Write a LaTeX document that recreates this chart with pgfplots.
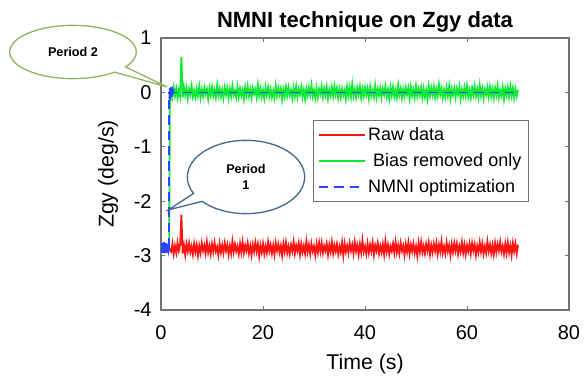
\documentclass[border=0pt]{standalone}
\usepackage{pgfplots}
\pgfplotsset{compat=1.18}
\usepackage{pgfplotstable}
\usepackage{fontspec}
\setmainfont{Liberation Sans}
\usetikzlibrary{shapes.callouts}
\definecolor{rawred}{RGB}{255,20,20}
\definecolor{biasgreen}{RGB}{10,235,50}
\definecolor{nmniblue}{RGB}{40,70,255}
\definecolor{axgray}{RGB}{115,115,115}
\definecolor{calloutgreen}{RGB}{140,185,100}
\definecolor{calloutblue}{RGB}{70,105,150}

\pgfplotstableread{
x g r
1.60 -2.85 -2.85
1.75 0.02 -2.90
2.00 0.05 -2.93
2.25 -0.08 -2.78
2.50 0.09 -2.97
2.75 -0.06 -2.82
3.00 0.07 -2.95
3.25 -0.10 -2.76
3.50 0.04 -2.91
3.75 -0.07 -2.80
4.00 0.65 -2.25
4.25 -0.09 -2.96
4.50 0.10 -2.81
4.75 -0.05 -2.99
5.00 0.08 -2.79
5.25 -0.11 -2.92
5.50 0.06 -2.77
5.75 -0.04 -2.94
6.00 0.12 -2.83
6.25 -0.08 -2.98
6.50 0.03 -2.78
6.75 -0.09 -2.93
7.00 0.07 -2.80
7.25 -0.06 -3.00
7.50 0.11 -2.82
7.75 -0.10 -2.95
8.00 0.05 -2.77
8.25 -0.07 -2.91
8.50 0.09 -2.81
8.75 -0.03 -2.96
9.00 0.06 -2.75
9.25 -0.12 -2.94
9.50 0.08 -2.82
9.75 -0.05 -2.97
10.00 0.10 -2.79
10.25 -0.07 -2.93
10.50 0.04 -2.76
10.75 -0.09 -2.92
11.00 0.13 -2.84
11.25 -0.06 -2.99
11.50 0.07 -2.78
11.75 -0.08 -2.94
12.00 0.05 -2.81
12.25 -0.10 -2.95
12.50 0.09 -2.77
12.75 -0.04 -2.91
13.00 0.08 -2.80
13.25 -0.11 -2.98
13.50 0.06 -2.82
13.75 -0.07 -2.96
14.00 0.12 -2.74
14.25 -0.05 -2.93
14.50 0.03 -2.79
14.75 -0.09 -2.92
15.00 0.10 -2.83
15.25 -0.08 -2.97
15.50 0.07 -2.78
15.75 -0.06 -2.94
16.00 0.04 -2.75
16.25 -0.12 -2.95
16.50 0.09 -2.81
16.75 -0.05 -2.91
17.00 0.11 -2.77
17.25 -0.07 -2.96
17.50 0.06 -2.82
17.75 -0.10 -2.99
18.00 0.08 -2.80
18.25 -0.03 -2.93
18.50 0.05 -2.76
18.75 -0.09 -2.92
19.00 0.14 -2.79
19.25 -0.06 -3.01
19.50 0.07 -2.81
19.75 -0.08 -2.94
20.00 0.04 -2.78
20.25 -0.11 -2.97
20.50 0.10 -2.83
20.75 -0.05 -2.95
21.00 0.09 -2.75
21.25 -0.07 -2.92
21.50 0.06 -2.80
21.75 -0.09 -2.96
22.00 0.03 -2.81
22.25 -0.10 -2.98
22.50 0.12 -2.77
22.75 -0.06 -2.91
23.00 0.08 -2.79
23.25 -0.04 -2.94
23.50 0.07 -2.82
23.75 -0.13 -3.00
24.00 0.05 -2.78
24.25 -0.08 -2.93
24.50 0.10 -2.76
24.75 -0.06 -2.95
25.00 0.09 -2.83
25.25 -0.05 -2.97
25.50 0.04 -2.80
25.75 -0.11 -2.92
26.00 0.08 -2.75
26.25 -0.07 -2.96
26.50 0.11 -2.81
26.75 -0.09 -2.91
27.00 0.06 -2.77
27.25 -0.04 -2.98
27.50 0.10 -2.79
27.75 -0.08 -2.94
28.00 0.05 -2.82
28.25 -0.12 -2.96
28.50 0.07 -2.74
28.75 -0.06 -2.93
29.00 0.09 -2.80
29.25 -0.05 -2.97
29.50 0.13 -2.78
29.75 -0.07 -2.92
30.00 0.04 -2.83
30.25 -0.10 -2.99
30.50 0.08 -2.79
30.75 -0.09 -2.94
31.00 0.06 -2.76
31.25 -0.03 -2.93
31.50 0.11 -2.77
31.75 -0.08 -2.95
32.00 0.07 -2.82
32.25 -0.05 -2.91
32.50 0.10 -2.78
32.75 -0.11 -2.98
33.00 0.05 -2.80
33.25 -0.06 -2.93
33.50 0.09 -2.75
33.75 -0.07 -2.96
34.00 0.12 -2.81
34.25 -0.04 -2.92
34.50 0.08 -2.79
34.75 -0.10 -2.97
35.00 0.06 -2.83
35.25 -0.09 -2.94
35.50 0.07 -2.76
35.75 -0.05 -3.00
36.00 0.04 -2.78
36.25 -0.12 -2.93
36.50 0.10 -2.82
36.75 -0.06 -2.95
37.00 0.09 -2.77
37.25 -0.08 -2.91
37.50 0.15 -2.80
37.75 -0.07 -2.96
38.00 0.05 -2.75
38.25 -0.09 -2.92
38.50 0.08 -2.81
38.75 -0.04 -2.98
39.00 0.11 -2.79
39.25 -0.10 -2.94
39.50 0.06 -2.72
39.75 -0.07 -2.93
40.00 0.09 -2.83
40.25 -0.05 -2.97
40.50 0.07 -2.78
40.75 -0.11 -2.95
41.00 0.10 -2.80
41.25 -0.06 -2.92
41.50 0.04 -2.76
41.75 -0.08 -2.99
42.00 0.12 -2.81
42.25 -0.09 -2.91
42.50 0.06 -2.77
42.75 -0.05 -2.96
43.00 0.08 -2.82
43.25 -0.10 -2.94
43.50 0.07 -2.79
43.75 -0.04 -2.98
44.00 0.11 -2.74
44.25 -0.07 -2.93
44.50 0.05 -2.80
44.75 -0.12 -2.97
45.00 0.09 -2.83
45.25 -0.06 -2.92
45.50 0.10 -2.78
45.75 -0.08 -2.95
46.00 0.04 -2.75
46.25 -0.09 -2.94
46.50 0.13 -2.81
46.75 -0.05 -2.96
47.00 0.07 -2.77
47.25 -0.10 -2.91
47.50 0.06 -2.82
47.75 -0.07 -2.99
48.00 0.09 -2.79
48.25 -0.04 -2.93
48.50 0.08 -2.76
48.75 -0.11 -2.97
49.00 0.10 -2.80
49.25 -0.06 -2.92
49.50 0.05 -2.78
49.75 -0.09 -2.95
50.00 0.12 -2.83
50.25 -0.07 -3.00
50.50 0.06 -2.77
50.75 -0.05 -2.93
51.00 0.09 -2.75
51.25 -0.10 -2.94
51.50 0.07 -2.82
51.75 -0.08 -2.96
52.00 0.04 -2.79
52.25 -0.12 -2.91
52.50 0.11 -2.76
52.75 -0.06 -2.98
53.00 0.08 -2.81
53.25 -0.05 -2.94
53.50 0.10 -2.78
53.75 -0.09 -2.92
54.00 0.06 -2.77
54.25 -0.07 -2.97
54.50 0.14 -2.80
54.75 -0.04 -2.93
55.00 0.07 -2.74
55.25 -0.10 -2.95
55.50 0.05 -2.83
55.75 -0.08 -2.96
56.00 0.09 -2.76
56.25 -0.06 -2.92
56.50 0.11 -2.81
56.75 -0.11 -2.99
57.00 0.06 -2.79
57.25 -0.05 -2.94
57.50 0.08 -2.77
57.75 -0.09 -2.91
58.00 0.07 -2.78
58.25 -0.04 -2.97
58.50 0.10 -2.82
58.75 -0.12 -2.93
59.00 0.05 -2.75
59.25 -0.07 -2.95
59.50 0.09 -2.80
59.75 -0.06 -2.98
60.00 0.12 -2.81
60.25 -0.08 -2.92
60.50 0.04 -2.78
60.75 -0.10 -2.96
61.00 0.08 -2.77
61.25 -0.05 -2.91
61.50 0.11 -2.79
61.75 -0.07 -2.99
62.00 0.06 -2.82
62.25 -0.09 -2.94
62.50 0.13 -2.76
62.75 -0.06 -2.93
63.00 0.07 -2.78
63.25 -0.11 -2.97
63.50 0.05 -2.83
63.75 -0.04 -2.95
64.00 0.09 -2.74
64.25 -0.08 -2.92
64.50 0.10 -2.80
64.75 -0.07 -2.96
65.00 0.06 -2.81
65.25 -0.10 -2.98
65.50 0.08 -2.77
65.75 -0.05 -2.94
66.00 0.12 -2.79
66.25 -0.09 -2.91
66.50 0.04 -2.75
66.75 -0.06 -2.93
67.00 0.10 -2.82
67.25 -0.12 -2.97
67.50 0.07 -2.78
67.75 -0.05 -2.95
68.00 0.09 -2.76
68.25 -0.08 -2.94
68.50 0.11 -2.81
68.75 -0.06 -2.99
69.00 0.08 -2.77
69.25 -0.10 -2.92
69.50 0.06 -2.78
69.75 -0.07 -2.96
70.00 0.05 -2.80
}\datatable

\begin{document}
\begin{tikzpicture}
\begin{axis}[
  at={(0,0)}, anchor=south west,
  scale only axis, width=306pt, height=204pt,
  xmin=0, xmax=80, ymin=-4, ymax=1,
  xtick={0,20,40,60,80}, ytick={-4,-3,-2,-1,0,1},
  tick align=inside, major tick length=3pt,
  axis line style={axgray, line width=0.8pt},
  tick style={axgray, line width=0.6pt},
  ticklabel style={font=\fontsize{15}{18}\selectfont},
  xticklabel style={yshift=-8pt},
  yticklabel style={xshift=-3.5pt},
  /pgf/number format/assume math mode=true,
  xlabel={Time (s)}, ylabel={Zgy (deg/s)},
  label style={font=\fontsize{16}{19}\selectfont},
  xlabel style={yshift=-4pt},
  ylabel style={yshift=5pt},
  title={\textbf{NMNI technique on Zgy data}},
  title style={font=\fontsize{16.5}{19}\selectfont, yshift=-5pt},
  legend style={at={(0.3725,0.6985)}, anchor=north west, draw=axgray,
    line width=0.8pt, font=\fontsize{13.5}{16}\selectfont,
    row sep=4pt, inner sep=3.5pt},
  legend cell align=left,
  legend image code/.code={\draw[#1, line width=1.4pt] (0cm,0cm) -- (1.2cm,0cm);},
]
\addplot[rawred, line width=1.35pt] table[x=x, y=r] {\datatable};
\addlegendentry{Raw data}
\addplot[biasgreen, line width=1.35pt] table[x=x, y=g] {\datatable};
\addlegendentry{\ Bias removed only}
\addplot[nmniblue, line width=1.3pt, forget plot] coordinates {
(0,-2.82)(0.1,-2.93)(0.2,-2.76)(0.3,-2.95)(0.4,-2.78)(0.5,-2.92)(0.6,-2.75)
(0.7,-2.96)(0.8,-2.79)(0.9,-2.94)(1.0,-2.77)(1.1,-2.95)(1.2,-2.80)(1.3,-2.93)
(1.4,-2.78)(1.5,-2.90)(1.6,-2.85)};
\addplot[nmniblue, line width=1.3pt, forget plot] coordinates {
(1.65,-0.12)(1.75,0.08)(1.85,-0.15)(1.95,0.10)(2.05,-0.08)(2.15,0.07)
(2.25,-0.05)(2.35,0.04)(2.45,0.00)};
\addplot[nmniblue, line width=1.3pt, dash pattern=on 7pt off 4.5pt] coordinates {
(1.62,-2.85)(1.62,0)(70,0)};
\addlegendentry{NMNI optimization}
\coordinate (p2) at (axis cs:1.2,0.1);
\coordinate (p1) at (axis cs:1.45,-2.16);
\end{axis}
\node[ellipse callout, draw=calloutgreen, line width=1pt, fill=white,
  minimum width=95pt, minimum height=40pt, inner sep=0pt,
  callout absolute pointer={(p2)},
  font=\bfseries\fontsize{9.5}{11}\selectfont] at (-66pt,193.5pt) {Period 2};
\node[ellipse callout, draw=calloutblue, line width=1pt, fill=white,
  minimum width=88pt, minimum height=55pt, inner sep=0pt, align=center,
  callout absolute pointer={(p1)},
  font=\bfseries\fontsize{9.5}{12}\selectfont] at (63.75pt,99.75pt) {Period\\1};
\pgfresetboundingbox
\path[use as bounding box] (-120.75pt,-52.5pt) rectangle (318pt,232.5pt);
\end{tikzpicture}
\end{document}
